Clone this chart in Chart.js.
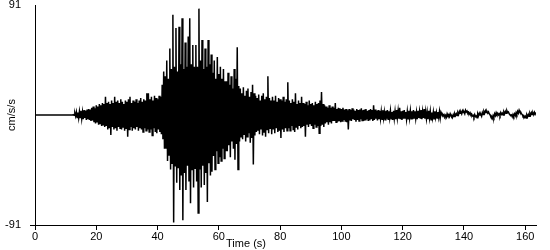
<!DOCTYPE html>
<html>
<head>
<meta charset="utf-8">
<script src="https://cdn.jsdelivr.net/npm/chart.js@4/dist/chart.umd.min.js"></script>
<style>
  html, body { margin: 0; padding: 0; background: #fff; }
  #wrap { width: 550px; height: 250px; }
</style>
</head>
<body>
<div id="wrap"><canvas id="trace"></canvas></div>
<script>
// quiet record before the first arrival
const preEventTimes = [0, 12.3];
const preEventValues = [0, 0];

// after onset: one upswing and one downswing per 0.5 s (cm/s/s)
const onsetTime = 12.5;
const stepSec = 0.5;

const upPeaks = [
  0.3, 1.5, 2.5, 2, 3, 3.5, 2.5, 4, 3.5, 4.5,
  5, 4.5, 6, 7, 5.5, 8, 7, 9, 8, 10,
  9, 15, 10, 11, 9, 12, 10, 15, 11, 12,
  10, 13, 11, 9, 12, 11, 13, 15, 10, 12,
  11, 13, 10, 12, 14, 11, 13, 12, 18, 18,
  13, 15, 12, 16, 14, 13, 16, 15, 25, 36,
  32, 45, 30, 55, 38, 83, 40, 72, 36, 73,
  42, 80, 38, 60, 40, 65, 80, 42, 58, 40,
  58, 40, 88, 45, 62, 38, 55, 40, 62, 42,
  50, 35, 45, 30, 48, 34, 40, 30, 38, 28,
  28, 35, 25, 32, 22, 38, 30, 56, 24, 22,
  18, 23, 16, 20, 22, 15, 19, 25, 18, 16,
  14, 17, 12, 16, 18, 13, 15, 32, 14, 12,
  15, 12, 16, 11, 14, 13, 12, 15, 11, 13,
  27, 12, 10, 13, 11, 18, 9, 12, 10, 15,
  10, 9, 11, 8, 12, 9, 10, 8, 11, 9,
  10, 12, 19, 9, 8, 7, 6, 8, 6, 7,
  6, 10, 5, 6, 5.5, 5, 6, 4.5, 5, 4,
  5, 4, 5.5, 4.5, 3.5, 5, 4, 4.5, 5.5, 4,
  4.5, 5, 3.5, 4, 5, 4, 8, 4.5, 3.5, 4,
  3.5, 3, 4, 2.5, 3.5, 4, 3, 3.5, 2.5, 3.5,
  3, 4, 3.5, 6, 3, 3.5, 4, 2.5, 3, 3.5,
  3.5, 3, 4, 3, 2.5, 3.5, 3, 4, 3, 5,
  3, 2.5, 3.5, 3, 2, 2.5, 3, 2, 2.5, 3,
  2.3, 0.8, 0.3, -0.2, 1, 0.3, 1, -0.5, 0.3, 1,
  1, 2, 3, 2.5, 3.5, 2.5, 4, 3.3, 2.3, 1.8,
  0.8, -0.2, 0.3, -0.7, 1, 1.5, 0.5, 2, 3, 3.5,
  3, 2.5, 0.3, -1.2, -0.5, 1, 2, 1.5, 1, 2,
  1.5, 2.5, 3, 3.5, 2.5, 1, 0, 0.5, 1, 2,
  3, 4, 2.5, 0.5, -0.5, -1, 0, 0.5, 1.5, 2,
  1.8, 2.3, 2
];

const downPeaks = [
  -0.3, -1, -2, -2.5, -2, -3, -3.5, -2.5, -4, -3.5,
  -4, -5, -4.5, -6, -7, -5.5, -8, -7, -9, -8,
  -10, -9, -12, -11, -16.5, -10, -12, -11, -13, -10,
  -11, -12, -10, -13, -11, -18, -12, -10, -13, -11,
  -12, -10, -13, -11, -12, -14, -11, -13, -12, -14,
  -12, -17, -11, -14, -15, -12, -14, -16, -20, -28,
  -28, -38, -33, -45, -40, -89, -42, -56, -44, -62,
  -50, -87, -48, -62, -42, -55, -73, -45, -60, -44,
  -55, -81, -45, -60, -42, -58, -48, -72, -40, -50,
  -47, -34, -45, -30, -40, -35, -38, -28, -36, -30,
  -30, -25, -35, -22, -28, -37, -24, -45, -22, -18,
  -20, -16, -22, -18, -15, -23, -19, -41, -17, -14,
  -13, -16, -12, -17, -14, -18, -12, -15, -11, -16,
  -12, -15, -11, -14, -13, -19, -12, -14, -11, -13,
  -11, -13, -9, -12, -14, -10, -12, -9, -11, -10,
  -9, -18, -8, -10, -7, -9, -11, -8, -10, -9,
  -15, -9, -8, -10, -7, -6, -8, -6, -7, -5,
  -5, -6, -5.5, -4.5, -6, -5, -4, -5.5, -6, -12,
  -4.5, -5, -3.5, -4, -5.5, -4, -5, -3.5, -4.5, -5,
  -4, -3.5, -5, -4.5, -3.5, -5, -4, -3, -4.5, -3.5,
  -3, -3.5, -2.5, -4, -3, -3.5, -2.5, -3, -4, -3,
  -3.5, -2.5, -3, -3.5, -4, -3, -2.5, -3.5, -3, -2.5,
  -3, -3.5, -2.5, -3, -3.5, -2.5, -3, -3.5, -2.5, -3,
  -3, -3.5, -2.5, -4, -2.5, -3, -2, -2.5, -2, -2.5,
  0.7, -0.8, -1.3, -1.8, -0.5, -1.3, -0.5, -2, -1.3, -0.5,
  -0.5, 0.5, 1.5, 1, 2, 1, 2.5, 1.7, 0.7, 0.2,
  -0.8, -1.8, -1.3, -2.3, -0.5, 0, -1, 0.5, 1.5, 2,
  1.5, 1, -1.3, -2.8, -2, -0.5, 0.5, 0, -0.5, 0.5,
  0, 1, 1.5, 2, 1, -0.5, -1.5, -1, -0.5, 0.5,
  1.5, 2.5, 1, -1, -2, -2.5, -1.5, -1, 0, 0.5,
  0.2, 0.7, 0.5
];

const xTicks = [0, 20, 40, 60, 80, 100, 120, 140, 160];
const yTicks = [-91, 91];

const points = preEventTimes.map((t, i) => ({ x: t, y: preEventValues[i] }));
upPeaks.forEach((v, i) => {
  const t = onsetTime + i * stepSec;
  points.push({ x: t, y: v });
  points.push({ x: t + stepSec / 2, y: downPeaks[i] });
});

const labelFont = { family: '"Liberation Sans", Arial, sans-serif', size: 11, lineHeight: 1 };

const axisTitles = {
  id: 'axisTitles',
  afterDraw(chart) {
    const { ctx, chartArea } = chart;
    ctx.save();
    ctx.fillStyle = '#000';
    ctx.font = '11px "Liberation Sans", Arial, sans-serif';
    ctx.textAlign = 'center';
    ctx.textBaseline = 'middle';
    ctx.fillText('Time (s)', 246, 244);
    ctx.translate(12, (chartArea.top + chartArea.bottom) / 2);
    ctx.rotate(-Math.PI / 2);
    ctx.fillText('cm/s/s', 0, 0);
    ctx.restore();
  }
};

new Chart(document.getElementById('trace'), {
  type: 'line',
  data: {
    datasets: [{
      data: points,
      borderColor: '#000',
      borderWidth: 1.5,
      pointRadius: 0,
      tension: 0,
      fill: false
    }]
  },
  options: {
    responsive: true,
    maintainAspectRatio: false,
    animation: false,
    events: [],
    layout: { padding: { left: 0, right: 14, top: 5, bottom: 0 } },
    plugins: { legend: { display: false }, tooltip: { enabled: false } },
    scales: {
      x: {
        type: 'linear',
        min: 0,
        max: 163.5,
        afterBuildTicks: (scale) => { scale.ticks = xTicks.map(v => ({ value: v })); },
        afterFit: (scale) => { scale.height = 25; scale.paddingLeft = 0; scale.paddingRight = 0; },
        border: { color: '#000', width: 1 },
        grid: { drawOnChartArea: false, color: '#000', tickLength: 5 },
        ticks: { color: '#000', font: labelFont, padding: 1, maxRotation: 0, autoSkip: false }
      },
      y: {
        min: -91,
        max: 91,
        afterBuildTicks: (scale) => { scale.ticks = yTicks.map(v => ({ value: v })); },
        afterFit: (scale) => { scale.width = 35; scale.paddingTop = 0; scale.paddingBottom = 0; },
        border: { color: '#000', width: 1 },
        grid: {
          drawOnChartArea: false,
          tickLength: 5,
          color: (c) => (c.tick && c.tick.value === -91 ? '#000' : 'rgba(0,0,0,0)')
        },
        ticks: { color: '#000', font: labelFont, padding: 9, autoSkip: false }
      }
    }
  },
  plugins: [axisTitles]
});
</script>
</body>
</html>
